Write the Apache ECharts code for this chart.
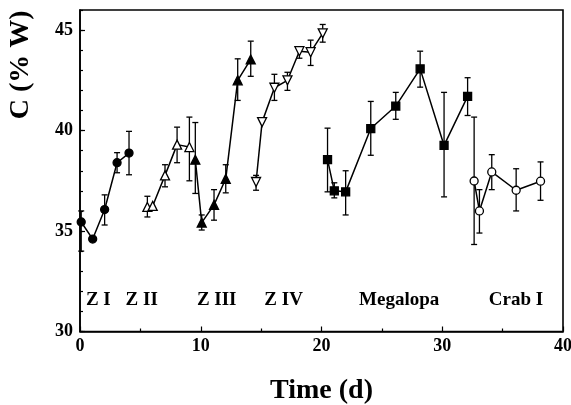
<!DOCTYPE html>
<html>
<head>
<meta charset="utf-8">
<script src="https://cdn.jsdelivr.net/npm/echarts@6/dist/echarts.min.js"></script>
<style>html,body{margin:0;padding:0;background:#fff;}#c{width:571px;height:405px;}</style>
</head>
<body>
<div id="c"></div>
<script>
// ---- data ----
var ziX = [0.1, 1.05, 2.04, 3.07, 4.06];
var ziY = [35.45, 34.6, 36.07, 38.4, 38.88];
var ziBar = [[34.0, 36.0], null, [35.3, 36.8], [37.9, 38.9], [37.8, 39.96]];

var ziiX = [5.58, 6.02, 7.04, 8.04, 9.06];
var ziiY = [36.2, 36.25, 37.77, 39.3, 39.18];
var ziiBar = [[35.7, 36.73], null, [37.2, 38.3], [38.4, 40.17], [37.5, 40.67]];

var ziiiX = [9.55, 10.08, 11.1, 12.07, 13.06, 14.14];
var ziiiY = [38.55, 35.42, 36.3, 37.6, 42.5, 43.54];
var ziiiBar = [[36.87, 40.4], [35.05, 35.8], [35.54, 37.06], [36.9, 38.3], [41.5, 43.57], [42.7, 44.45]];

var zivX = [14.58, 15.08, 16.1, 17.18, 18.17, 19.1, 20.1];
var zivY = [37.44, 40.42, 42.13, 42.5, 43.95, 43.9, 44.84];
var zivBar = [[37.03, 37.77], null, [41.5, 42.8], [42.0, 42.9], [43.6, 44.15], [43.24, 44.5], [44.4, 45.28]];

var megX = [20.5, 21.06, 22.0, 24.08, 26.15, 28.17, 30.15, 32.1];
var megY = [38.55, 37.0, 36.95, 40.1, 41.22, 43.07, 39.26, 41.7];
var megBar = [[36.95, 40.12], [36.65, 37.4], [35.8, 38.0], [38.77, 41.45], [40.56, 41.9], [42.16, 43.95], [36.7, 41.9], [40.75, 42.63]];

var crabX = [32.64, 33.08, 34.1, 36.12, 38.14];
var crabY = [37.49, 36.0, 37.94, 37.03, 37.48];
var crabBar = [[34.33, 40.67], [34.9, 37.06], [37.06, 38.8], [36.0, 38.1], [36.53, 38.44]];

var stageNames = ['Z I', 'Z II', 'Z III', 'Z IV', 'Megalopa', 'Crab I'];
var stageLabelX = [1.52, 5.11, 11.32, 16.86, 26.43, 36.1];
var stageLabelY = 31.55;

var xTicks = [0, 10, 20, 30, 40];
var yTicks = [30, 35, 40, 45];

// ---- build ----
var FONT = "'Liberation Serif', 'Times New Roman', serif";

function pts(xs, ys) { return xs.map(function (x, i) { return [x, ys[i]]; }); }
function bars(xs, b) {
  var out = [];
  xs.forEach(function (x, i) { if (b[i]) out.push([x, b[i][0], b[i][1]]); });
  return out;
}

function errSeries(data) {
  return {
    type: 'custom',
    xAxisIndex: 0, yAxisIndex: 0,
    z: 1,
    silent: true,
    data: data,
    renderItem: function (params, api) {
      var x = api.value(0);
      var lo = api.coord([x, api.value(1)]);
      var hi = api.coord([x, api.value(2)]);
      var w = 3;
      var st = { stroke: '#000', lineWidth: 1.3 };
      return {
        type: 'group',
        children: [
          { type: 'line', shape: { x1: lo[0], y1: lo[1], x2: hi[0], y2: hi[1] }, style: st },
          { type: 'line', shape: { x1: lo[0] - w, y1: lo[1], x2: lo[0] + w, y2: lo[1] }, style: st },
          { type: 'line', shape: { x1: hi[0] - w, y1: hi[1], x2: hi[0] + w, y2: hi[1] }, style: st }
        ]
      };
    }
  };
}

function lineSeries(data, symbol, filled, size, rotate) {
  return {
    type: 'line',
    xAxisIndex: 0, yAxisIndex: 0,
    z: 3,
    data: data,
    symbol: symbol,
    symbolSize: size,
    symbolRotate: rotate || 0,
    showAllSymbol: true,
    lineStyle: { color: '#000', width: 1.5 },
    itemStyle: { color: filled ? '#000' : '#fff', borderColor: '#000', borderWidth: 1.3 },
    emphasis: { disabled: true },
    animation: false
  };
}

var stageData = stageNames.map(function (n, i) { return { value: [stageLabelX[i], stageLabelY], name: n }; });

var option = {
  animation: false,
  backgroundColor: '#fff',
  grid: { left: 80, right: 8, top: 10, bottom: 73.5, show: true, borderColor: '#000', borderWidth: 1.6,
    backgroundColor: 'transparent', containLabel: false, outerBoundsMode: 'none' },
  xAxis: {
    type: 'value', min: 0, max: 40, interval: 10,
    name: 'Time (d)', nameLocation: 'middle', nameGap: 45,
    nameTextStyle: { fontFamily: FONT, fontWeight: 'bold', fontSize: 28, color: '#000' },
    axisLine: { show: true, lineStyle: { color: '#000', width: 1.6 } },
    axisTick: { show: true, inside: true, length: 5, lineStyle: { color: '#000', width: 1.2 } },
    minorTick: { show: true, splitNumber: 2, length: 3, lineStyle: { color: '#000', width: 1.2 } },
    splitLine: { show: false },
    axisLabel: { fontFamily: FONT, fontWeight: 'bold', fontSize: 18, color: '#000', margin: 6,
      formatter: function (v) { return xTicks.indexOf(v) >= 0 ? String(v) : ''; } }
  },
  yAxis: [
    {
      type: 'value', min: 30, max: 46, interval: 5,
      name: 'C (% W)', nameLocation: 'middle', nameGap: 45,
      nameTextStyle: { fontFamily: FONT, fontWeight: 'bold', fontSize: 28, color: '#000', padding: [0, 0, 0, 212] },
      axisLine: { show: true, lineStyle: { color: '#000', width: 1.6 } },
      axisTick: { show: true, inside: true, length: 5, lineStyle: { color: '#000', width: 1.2 } },
      splitLine: { show: false },
      axisLabel: { fontFamily: FONT, fontWeight: 'bold', fontSize: 18, color: '#000', margin: 7, showMaxLabel: false,
        formatter: function (v) { return yTicks.indexOf(v) >= 0 ? String(v) : ''; } }
    },
    {
      type: 'value', min: 30, max: 46, interval: 1, position: 'left',
      axisLine: { show: false },
      axisTick: { show: true, inside: true, length: 3, lineStyle: { color: '#000', width: 1.2 } },
      splitLine: { show: false },
      axisLabel: { show: false }
    }
  ],
  series: [
    errSeries(bars(ziX, ziBar)),
    errSeries(bars(ziiX, ziiBar)),
    errSeries(bars(ziiiX, ziiiBar)),
    errSeries(bars(zivX, zivBar)),
    errSeries(bars(megX, megBar)),
    errSeries(bars(crabX, crabBar)),
    lineSeries(pts(ziX, ziY), 'circle', true, 8),
    lineSeries(pts(ziiX, ziiY), 'triangle', false, 9),
    lineSeries(pts(ziiiX, ziiiY), 'triangle', true, 9),
    lineSeries(pts(zivX, zivY), 'triangle', false, 9, 180),
    lineSeries(pts(megX, megY), 'rect', true, 8),
    lineSeries(pts(crabX, crabY), 'circle', false, 8),
    {
      type: 'scatter', xAxisIndex: 0, yAxisIndex: 0, symbol: 'circle', symbolSize: 1, silent: true,
      itemStyle: { color: 'rgba(0,0,0,0)', opacity: 1 },
      data: stageData,
      label: { show: true, position: 'inside', formatter: '{b}', fontFamily: FONT, fontWeight: 'bold', fontSize: 19, color: '#000', opacity: 1 }
    }
  ]
};

var chart = echarts.init(document.getElementById('c'), null, { renderer: 'canvas' });
chart.setOption(option);
</script>
</body>
</html>
